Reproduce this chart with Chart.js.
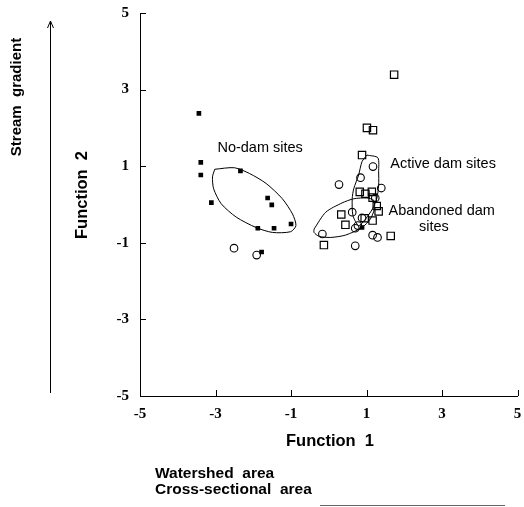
<!DOCTYPE html>
<html>
<head>
<meta charset="utf-8">
<script src="https://cdn.jsdelivr.net/npm/chart.js@4.4.1/dist/chart.umd.min.js"></script>
<style>
  body { margin: 0; background: #fff; }
  #wrap { width: 524px; height: 507px; }
</style>
</head>
<body>
<div id="wrap"><canvas id="chart"></canvas></div>
<script>
// axis ticks
const xTicks = [-5, -3, -1, 1, 3, 5];
const yTicks = [-5, -3, -1, 1, 3, 5];

// no-dam sites (filled squares)
const noDamX = [-3.44, -3.39, -3.39, -3.11, -2.34, -1.62, -1.51, -1.00, -1.88, -1.45, -1.78, 0.88];
const noDamY = [2.38, 1.10, 0.77, 0.05, 0.88, 0.17, -0.01, -0.51, -0.62, -0.62, -1.24, -0.60];

// open squares
const squareX = [1.73, 1.01, 1.17, 0.88, 0.82, 0.97, 1.14, 1.16, 1.27, 1.32, 0.33, 0.44, 0.95, 1.16, 1.64, -0.13];
const squareY = [3.39, 2.00, 1.94, 1.29, 0.33, 0.28, 0.33, 0.18, -0.04, -0.18, -0.26, -0.53, -0.36, -0.42, -0.82, -1.06];

// open circles
const circleX = [-2.51, -1.91, 1.17, 0.84, 0.27, 1.39, 1.23, 0.62, 0.88, 0.77, 0.70, -0.17, 1.16, 1.29, 0.70];
const circleY = [-1.14, -1.32, 0.99, 0.70, 0.52, 0.43, 0.17, -0.20, -0.35, -0.55, -0.62, -0.77, -0.80, -0.86, -1.08];

// group outlines
const noDamEdgeX = [-3.02, -2.50, -2.10, -1.66, -1.23, -0.96, -0.87, -1.01, -1.49, -1.93, -2.45, -2.85, -3.05, -3.08, -3.02];
const noDamEdgeY = [0.92, 0.96, 0.81, 0.55, 0.15, -0.25, -0.55, -0.71, -0.73, -0.60, -0.33, 0.02, 0.41, 0.72, 0.92];
const activeEdgeX = [1.01, 1.30, 1.32, 1.32, 1.27, 1.16, 0.97, 0.79, 0.64, 0.62, 0.66, 0.79, 0.88, 1.01];
const activeEdgeY = [1.29, 1.22, 0.85, 0.50, 0.15, -0.11, -0.38, -0.55, -0.29, 0.15, 0.41, 0.77, 1.12, 1.29];
const abandonedEdgeX = [-0.39, -0.08, 0.35, 0.66, 1.01, 1.19, 1.21, 1.10, 0.88, 0.44, 0.05, -0.26, -0.39, -0.39];
const abandonedEdgeY = [-0.64, -0.20, 0.04, 0.15, 0.17, 0.11, -0.11, -0.38, -0.60, -0.80, -0.86, -0.83, -0.73, -0.64];

// group labels (left edge, middle)
const groupLabels = ['No-dam sites', 'Active dam sites', 'Abandoned dam', 'sites'];
const groupLabelX = [-2.95, 1.63, 1.58, 2.39];
const groupLabelY = [1.48, 1.06, -0.17, -0.59];

const pts = (xs, ys) => xs.map((x, i) => ({ x, y: ys[i] }));

const outline = (xs, ys) => ({
  data: pts(xs, ys),
  showLine: true,
  borderColor: '#000',
  borderWidth: 1,
  pointRadius: 0,
  tension: 0.25,
  fill: false
});

// keep the plot box fixed: no extra room for the end tick labels
const noPad = s => { s.paddingLeft = 0; s.paddingRight = 0; s.paddingTop = 0; s.paddingBottom = 0; };

// tick marks inside, extra texts and the side arrow
const decor = {
  id: 'decor',
  afterDraw(chart) {
    const ctx = chart.ctx;
    const xs = chart.scales.x, ys = chart.scales.y;
    const area = chart.chartArea;
    ctx.save();
    ctx.strokeStyle = '#000';
    ctx.lineWidth = 1;
    ctx.beginPath();
    xTicks.forEach(v => {
      const p = Math.round(xs.getPixelForValue(v)) + 0.5;
      ctx.moveTo(p, area.bottom);
      ctx.lineTo(p, area.bottom - 6);
    });
    yTicks.forEach(v => {
      const p = Math.round(ys.getPixelForValue(v)) + 0.5;
      ctx.moveTo(area.left, p);
      ctx.lineTo(area.left + 6, p);
    });
    ctx.stroke();

    // group labels
    ctx.fillStyle = '#000';
    ctx.font = '14.5px "Liberation Sans", Arial, sans-serif';
    ctx.textAlign = 'left';
    ctx.textBaseline = 'middle';
    groupLabels.forEach((t, i) => {
      ctx.fillText(t, xs.getPixelForValue(groupLabelX[i]), ys.getPixelForValue(groupLabelY[i]));
    });

    // axis titles
    ctx.font = 'bold 16.5px "Liberation Sans", Arial, sans-serif';
    ctx.textAlign = 'center';
    ctx.fillText('Function  1', 330, 441);
    ctx.save();
    ctx.translate(82, 195);
    ctx.rotate(-Math.PI / 2);
    ctx.fillText('Function  2', 0, 0);
    ctx.restore();

    ctx.font = 'bold 15px "Liberation Sans", Arial, sans-serif';
    ctx.save();
    ctx.translate(17, 97);
    ctx.rotate(-Math.PI / 2);
    ctx.fillText('Stream  gradient', 0, 0);
    ctx.restore();

    ctx.font = 'bold 15.5px "Liberation Sans", Arial, sans-serif';
    ctx.textAlign = 'left';
    ctx.fillText('Watershed  area', 155, 474);
    ctx.fillText('Cross-sectional  area', 155, 490);

    // vertical arrow
    ctx.beginPath();
    ctx.moveTo(50.5, 393);
    ctx.lineTo(50.5, 21);
    ctx.moveTo(47.5, 28);
    ctx.lineTo(50.5, 21);
    ctx.lineTo(53.5, 28);
    ctx.stroke();

    // bottom line
    ctx.strokeStyle = '#666';
    ctx.beginPath();
    ctx.moveTo(320, 505.5);
    ctx.lineTo(505, 505.5);
    ctx.stroke();
    ctx.restore();
  }
};

const tickFont = { family: '"Liberation Serif", "Times New Roman", serif', weight: 'bold', size: 15 };

new Chart(document.getElementById('chart').getContext('2d'), {
  type: 'scatter',
  data: {
    datasets: [
      outline(noDamEdgeX, noDamEdgeY),
      outline(activeEdgeX, activeEdgeY),
      outline(abandonedEdgeX, abandonedEdgeY),
      {
        data: pts(noDamX, noDamY),
        pointStyle: 'rect',
        pointRadius: 3.3,
        backgroundColor: '#000',
        borderColor: '#000',
        borderWidth: 0
      },
      {
        data: pts(squareX, squareY),
        pointStyle: 'rect',
        pointRadius: 5.2,
        backgroundColor: 'rgba(255,255,255,0)',
        borderColor: '#000',
        borderWidth: 1.2
      },
      {
        data: pts(circleX, circleY),
        pointStyle: 'circle',
        pointRadius: 3.8,
        backgroundColor: 'rgba(255,255,255,0)',
        borderColor: '#000',
        borderWidth: 1.1
      }
    ]
  },
  options: {
    responsive: true,
    maintainAspectRatio: false,
    animation: false,
    layout: { padding: { top: 13, right: 4, left: 0, bottom: 0 } },
    plugins: { legend: { display: false }, tooltip: { enabled: false } },
    scales: {
      x: {
        type: 'linear',
        min: -5,
        max: 5,
        afterBuildTicks: s => { s.ticks = xTicks.map(v => ({ value: v })); },
        afterFit: s => { s.height = 111; noPad(s); },
        grid: { display: false, drawTicks: false },
        border: { display: true, color: '#000', width: 1 },
        ticks: { color: '#000', font: tickFont, padding: 9, maxRotation: 0 }
      },
      y: {
        type: 'linear',
        min: -5,
        max: 5,
        afterBuildTicks: s => { s.ticks = yTicks.map(v => ({ value: v })); },
        afterFit: s => { s.width = 140; noPad(s); },
        grid: { display: false, drawTicks: false },
        border: { display: true, color: '#000', width: 1 },
        ticks: { color: '#000', font: tickFont, padding: 11 }
      }
    }
  },
  plugins: [decor]
});
</script>
</body>
</html>
